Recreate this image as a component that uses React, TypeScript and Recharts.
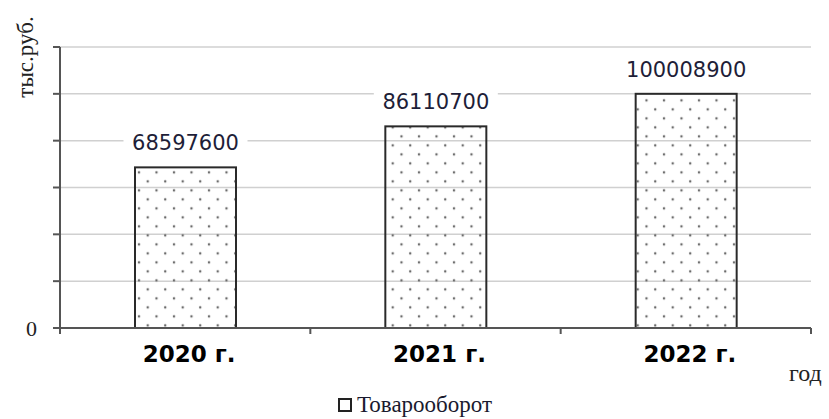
import React from "react";
import { BarChart, Bar, XAxis, YAxis, CartesianGrid, LabelList, Legend, Label } from "recharts";

// yearly turnover, thousand roubles
const years = ["2020 г.", "2021 г.", "2022 г."];
const turnover = [68597600, 86110700, 100008900];
const yTicks = [0, 20000000, 40000000, 60000000, 80000000, 100000000, 120000000];
const seriesName = "Товарооборот";

const data = years.map((year, i) => ({ year, value: turnover[i] }));

const SERIF = "'Times New Roman', 'Liberation Serif', 'DejaVu Serif', serif";
const SANS = "'DejaVu Sans', Verdana, sans-serif";

function DottedBar(props: any) {
  const { x, y, width, height } = props;
  return (
    <g>
      <defs>
        <pattern id="dots" patternUnits="userSpaceOnUse" width={17.5} height={18} x={x} y={y}>
          <circle cx={4} cy={5} r={1.25} fill="#6a6a6a" />
          <circle cx={12.75} cy={14} r={1.25} fill="#6a6a6a" />
        </pattern>
      </defs>
      <rect x={x} y={y} width={width} height={height} fill="url(#dots)" stroke="#2a2a2a" strokeWidth={2} />
    </g>
  );
}

function ValueLabel(props: any) {
  const { x, y, width, value } = props;
  const cx = x + width / 2;
  return (
    <g>
      <rect x={cx - 62} y={y - 38} width={124} height={26} fill="#fff" />
      <text x={cx} y={y - 17} textAnchor="middle" style={{ fontFamily: SANS, fontSize: 21 }} fill="#1e1e38">
        {value}
      </text>
    </g>
  );
}

function YearTick(props: any) {
  const { x, y, payload, index, width, visibleTicksCount } = props;
  const half = width / visibleTicksCount / 2;
  return (
    <g>
      <line x1={x - half} y1={y - 8} x2={x - half} y2={y - 2} stroke="#555" strokeWidth={2} />
      {index === visibleTicksCount - 1 && (
        <line x1={x + half} y1={y - 8} x2={x + half} y2={y - 2} stroke="#555" strokeWidth={2} />
      )}
      <text
        x={x + 4}
        y={y + 26}
        textAnchor="middle"
        style={{ fontFamily: SANS, fontWeight: "bold", fontSize: 23 }}
        fill="#000"
      >
        {payload.value}
      </text>
    </g>
  );
}

function ZeroTick(props: any) {
  const { y, payload } = props;
  if (payload.value !== 0) return null;
  return (
    <text x={37} y={y + 8} textAnchor="end" style={{ fontFamily: SERIF, fontSize: 22 }} fill="#222">
      0
    </text>
  );
}

function LegendContent() {
  return (
    <div
      style={{
        display: "flex",
        alignItems: "center",
        fontFamily: SERIF,
        fontSize: 23,
        lineHeight: "22px",
        color: "#1a1a2e",
        whiteSpace: "nowrap",
      }}
    >
      <span
        style={{ display: "inline-block", width: 10, height: 10, border: "2px solid #222", marginRight: 5 }}
      />
      {seriesName}
    </div>
  );
}

export default function App() {
  return (
    <div style={{ position: "absolute", left: 0, top: 0, width: 829, height: 419, background: "#fff" }}>
      <BarChart width={829} height={419} data={data} margin={{ top: 47, right: 18, bottom: 0, left: 0 }}>
        <CartesianGrid vertical={false} stroke="#d0d0d0" strokeWidth={1.5} />
        <XAxis
          dataKey="year"
          height={91}
          axisLine={{ stroke: "#555", strokeWidth: 2 }}
          tickLine={false}
          tick={<YearTick />}
          interval={0}
        >
          <Label
            content={() => (
              <text x={789} y={381} style={{ fontFamily: SERIF, fontSize: 24 }} fill="#222">
                год
              </text>
            )}
          />
        </XAxis>
        <YAxis
          width={60}
          domain={[0, 120000000]}
          ticks={yTicks}
          interval={0}
          tickSize={7}
          tickLine={{ stroke: "#555", strokeWidth: 2 }}
          axisLine={{ stroke: "#555", strokeWidth: 2 }}
          tick={<ZeroTick />}
        >
          <Label
            content={() => (
              <text
                x={33}
                y={57}
                transform="rotate(-90 33 57)"
                textAnchor="middle"
                style={{ fontFamily: SERIF, fontSize: 23 }}
                fill="#222"
              >
                тыс.руб.
              </text>
            )}
          />
        </YAxis>
        <Legend
          layout="horizontal"
          verticalAlign="middle"
          align="center"
          content={<LegendContent />}
          wrapperStyle={{ top: 394, left: 338, width: "auto" }}
        />
        <Bar dataKey="value" name={seriesName} barSize={101} shape={<DottedBar />} isAnimationActive={false}>
          <LabelList dataKey="value" content={<ValueLabel />} />
        </Bar>
      </BarChart>
    </div>
  );
}
